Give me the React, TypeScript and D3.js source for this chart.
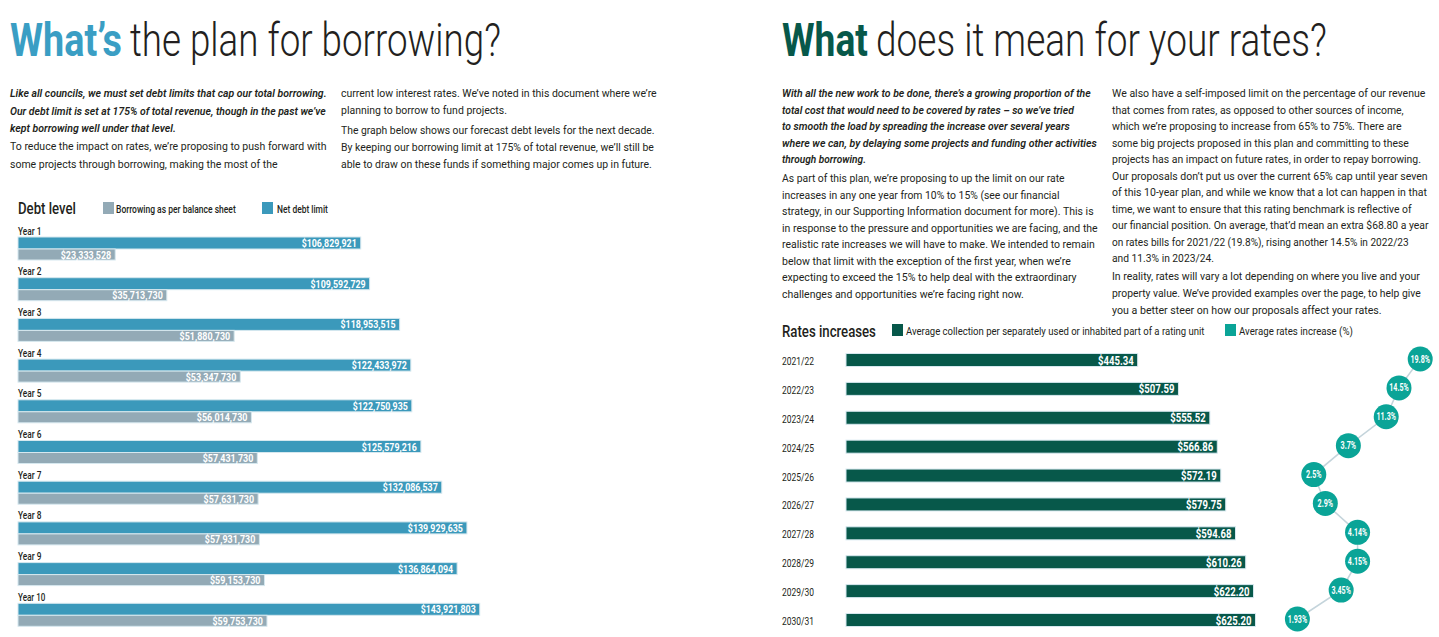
import React from 'react';
import * as d3 from 'd3';

// ---------- DATA ----------
const debtYears = ['Year 1', 'Year 2', 'Year 3', 'Year 4', 'Year 5', 'Year 6', 'Year 7', 'Year 8', 'Year 9', 'Year 10'];
const netDebtLimit = [106829921, 109592729, 118953515, 122433972, 122750935, 125579216, 132086537, 139929635, 136864094, 143921803];
const borrowing = [23333528, 35713730, 51880730, 53347730, 56014730, 57431730, 57631730, 57931730, 59153730, 59753730];

const rateYears = ['2021/22', '2022/23', '2023/24', '2024/25', '2025/26', '2026/27', '2027/28', '2028/29', '2029/30', '2030/31'];
const avgCollection = [445.34, 507.59, 555.52, 566.86, 572.19, 579.75, 594.68, 610.26, 622.2, 625.2];
const rateIncrease = [19.8, 14.5, 11.3, 3.7, 2.5, 2.9, 4.14, 4.15, 3.45, 1.93];

const leftTitle = ['What’s', 'the plan for borrowing?'];
const rightTitle = ['What', 'does it mean for your rates?'];
const debtLegend = ['Debt level', 'Borrowing as per balance sheet', 'Net debt limit'];
const rateLegend = ['Rates increases', 'Average collection per separately used or inhabited part of a rating unit', 'Average rates increase (%)'];

const leftColA = [
  'Like all councils, we must set debt limits that cap our total borrowing.',
  'Our debt limit is set at 175% of total revenue, though in the past we’ve',
  'kept borrowing well under that level.',
];
const leftColB = [
  'To reduce the impact on rates, we’re proposing to push forward with',
  'some projects through borrowing, making the most of the',
];
const leftColC = [
  'current low interest rates. We’ve noted in this document where we’re',
  'planning to borrow to fund projects.',
];
const leftColD = [
  'The graph below shows our forecast debt levels for the next decade.',
  'By keeping our borrowing limit at 175% of total revenue, we’ll still be',
  'able to draw on these funds if something major comes up in future.',
];
const rightColA = [
  'With all the new work to be done, there’s a growing proportion of the',
  'total cost that would need to be covered by rates – so we’ve tried',
  'to smooth the load by spreading the increase over several years',
  'where we can, by delaying some projects and funding other activities',
  'through borrowing.',
];
const rightColB = [
  'As part of this plan, we’re proposing to up the limit on our rate',
  'increases in any one year from 10% to 15% (see our financial',
  'strategy, in our Supporting Information document for more). This is',
  'in response to the pressure and opportunities we are facing, and the',
  'realistic rate increases we will have to make. We intended to remain',
  'below that limit with the exception of the first year, when we’re',
  'expecting to exceed the 15% to help deal with the extraordinary',
  'challenges and opportunities we’re facing right now.',
];
const rightColC = [
  'We also have a self-imposed limit on the percentage of our revenue',
  'that comes from rates, as opposed to other sources of income,',
  'which we’re proposing to increase from 65% to 75%. There are',
  'some big projects proposed in this plan and committing to these',
  'projects has an impact on future rates, in order to repay borrowing.',
  'Our proposals don’t put us over the current 65% cap until year seven',
  'of this 10-year plan, and while we know that a lot can happen in that',
  'time, we want to ensure that this rating benchmark is reflective of',
  'our financial position. On average, that’d mean an extra $68.80 a year',
  'on rates bills for 2021/22 (19.8%), rising another 14.5% in 2022/23',
  'and 11.3% in 2023/24.',
];
const rightColD = [
  'In reality, rates will vary a lot depending on where you live and your',
  'property value. We’ve provided examples over the page, to help give',
  'you a better steer on how our proposals affect your rates.',
];

// ---------- LAYOUT / STYLE (measured line widths) ----------
const wLeftA = [317, 316, 166];
const wLeftB = [317, 268];
const wLeftC = [316, 166];
const wLeftD = [314, 313, 311];
const wRightA = [309, 292, 288, 315, 84];
const wRightB = [283, 278, 312, 316, 313, 289, 295, 242];
const wRightC = [314, 292, 290, 297, 309, 316, 315, 300, 317, 297, 102];
const wRightD = [308, 309, 270];

const FAMILY = 'Roboto';
const FONT = "Roboto, 'Noto Sans', sans-serif";
const INK = '#231f20';
const BLUE_TITLE = '#3a9ec4';
const BLUE = '#3b99bb';
const GREY = '#93aab6';
const GREEN = '#07584a';
const TEAL = '#0aa497';
const BAR_STROKE = '#d6e8ef';

const W = 1439;
const H = 637;

let measureCtx: CanvasRenderingContext2D | null = null;
function measure(text: string, size: number, weight: number, italic: boolean): number {
  if (!measureCtx) {
    const c = document.createElement('canvas');
    measureCtx = c.getContext('2d');
  }
  if (!measureCtx) return text.length * size * 0.5;
  measureCtx.font = `${italic ? 'italic ' : ''}${weight} ${size}px ${FAMILY}`;
  return measureCtx.measureText(text).width;
}

// Text condensed horizontally to a target width (the reference uses a condensed face)
function T({ x, y, w, size, weight = 400, italic = false, fill = INK, anchor = 'start', children }: any) {
  const str = String(children);
  const natural = measure(str, size, weight, italic);
  const sx = w && natural > 0 ? w / natural : 1;
  return (
    <text
      transform={`translate(${x},${y}) scale(${sx},1)`}
      fontSize={size}
      fontWeight={weight}
      fontStyle={italic ? 'italic' : 'normal'}
      fill={fill}
      textAnchor={anchor}
    >
      {str}
    </text>
  );
}

function Para({ lines, widths, x, y0, step, italic, bold }: any) {
  return (
    <g>
      {lines.map((l: string, i: number) => (
        <T key={i} x={x} y={y0 + i * step} w={widths[i]} size={11.5} weight={bold ? 600 : 400} italic={italic}>
          {l}
        </T>
      ))}
    </g>
  );
}

export default function App() {
  // Left chart scales
  const yDebt = d3.scalePoint<string>().domain(debtYears).range([237, 603.3]);
  const xNet = d3.scaleLinear().domain([0, 144e6]).range([18, 480]);
  const xBor = d3.scaleLinear().domain([0, 60e6]).range([18, 268]);
  const fmtDollar = d3.format('$,');

  // Right chart scales
  const yRate = d3.scalePoint<string>().domain(rateYears).range([360, 620]);
  const xColl = d3.scaleLinear().domain([0, 655]).range([846, 1275]);
  const xPct = d3.scaleLinear().domain([1.5, 4, 20]).range([1285, 1357, 1421]);
  const fmtCents = d3.format('$.2f');

  const linePts: [number, number][] = rateIncrease.map((v, i) => [xPct(v), (yRate(rateYears[i]) as number) - 1]);
  const lineGen = d3.line();

  return (
    <svg
      width={W}
      height={H}
      style={{ position: 'absolute', left: 0, top: 0, background: '#fff' }}
      fontFamily={FONT}
    >
      <rect width={W} height={H} fill="#fff" />

      {/* ---------- LEFT PAGE ---------- */}
      <T x={10} y={56} w={112} size={46} weight={700} fill={BLUE_TITLE}>{leftTitle[0]}</T>
      <T x={130} y={56} w={371} size={46} weight={300}>{leftTitle[1]}</T>

      <Para lines={leftColA} widths={wLeftA} x={10} y0={97} step={17.5} italic bold />
      <Para lines={leftColB} widths={wLeftB} x={10} y0={150} step={17.5} />
      <Para lines={leftColC} widths={wLeftC} x={341} y0={97} step={17} />
      <Para lines={leftColD} widths={wLeftD} x={341} y0={134} step={17} />

      <T x={18} y={214} w={58} size={16} weight={500}>{debtLegend[0]}</T>
      <rect x={103} y={202} width={11} height={12} fill={GREY} />
      <T x={116} y={213} w={120} size={10.5} weight={500}>{debtLegend[1]}</T>
      <rect x={262} y={202} width={11} height={12} fill={BLUE} />
      <T x={277} y={213} w={51} size={10.5} weight={500}>{debtLegend[2]}</T>

      {debtYears.map((yr, i) => {
        const top = yDebt(yr) as number;
        const xn = xNet(netDebtLimit[i]);
        const xb = xBor(borrowing[i]);
        const ln = fmtDollar(netDebtLimit[i]);
        const lb = fmtDollar(borrowing[i]);
        return (
          <g key={yr}>
            <T x={18} y={top - 2.5} w={yr.length * 3.9} size={11} weight={500}>{yr}</T>
            <rect x={18} y={top} width={xn - 18} height={12} fill={BLUE} stroke={BAR_STROKE} strokeWidth={1} />
            <T x={xn - 4} y={top + 10} w={ln.length * 4.6} size={11} weight={700} fill="#fff" anchor="end">{ln}</T>
            <rect x={18} y={top + 12} width={xb - 18} height={11} fill={GREY} stroke={BAR_STROKE} strokeWidth={1} />
            <T x={xb - 4} y={top + 21.5} w={lb.length * 4.6} size={11} weight={700} fill="#fff" anchor="end">{lb}</T>
          </g>
        );
      })}

      {/* ---------- RIGHT PAGE ---------- */}
      <T x={782} y={56} w={86} size={46} weight={700} fill={GREEN}>{rightTitle[0]}</T>
      <T x={876} y={56} w={451} size={46} weight={300}>{rightTitle[1]}</T>

      <Para lines={rightColA} widths={wRightA} x={782} y0={97} step={16.6} italic bold />
      <Para lines={rightColB} widths={wRightB} x={782} y0={182} step={16.5} />
      <Para lines={rightColC} widths={wRightC} x={1112} y0={97} step={16.5} />
      <Para lines={rightColD} widths={wRightD} x={1112} y0={280} step={16.8} />

      <T x={782} y={337} w={94} size={16} weight={500}>{rateLegend[0]}</T>
      <rect x={892} y={324} width={11} height={12} fill={GREEN} />
      <T x={906} y={335} w={299} size={10.5}>{rateLegend[1]}</T>
      <rect x={1225} y={324} width={11} height={12} fill={TEAL} />
      <T x={1239} y={335} w={114} size={10.5}>{rateLegend[2]}</T>

      {rateYears.map((yr, i) => {
        const cy = yRate(yr) as number;
        const xe = xColl(avgCollection[i]);
        const lab = fmtCents(avgCollection[i]);
        return (
          <g key={yr}>
            <T x={782} y={cy + 5} w={32} size={11.5}>{yr}</T>
            <rect x={846} y={cy - 6.5} width={xe - 846} height={13} fill={GREEN} stroke={BAR_STROKE} strokeWidth={1} />
            <T x={xe - 4} y={cy + 4.5} w={lab.length * 5.1} size={12} weight={700} fill="#fff" anchor="end">{lab}</T>
          </g>
        );
      })}

      <path d={lineGen(linePts) || ''} fill="none" stroke="#c4d4db" strokeWidth={1.5} />
      {rateIncrease.map((v, i) => {
        const lab = `${v}%`;
        return (
          <g key={i}>
            <circle cx={linePts[i][0]} cy={linePts[i][1]} r={12.5} fill={TEAL} />
            <T x={linePts[i][0]} y={linePts[i][1] + 3.5} w={lab.length * 3.9} size={10} weight={700} fill="#fff" anchor="middle">{lab}</T>
          </g>
        );
      })}
    </svg>
  );
}
